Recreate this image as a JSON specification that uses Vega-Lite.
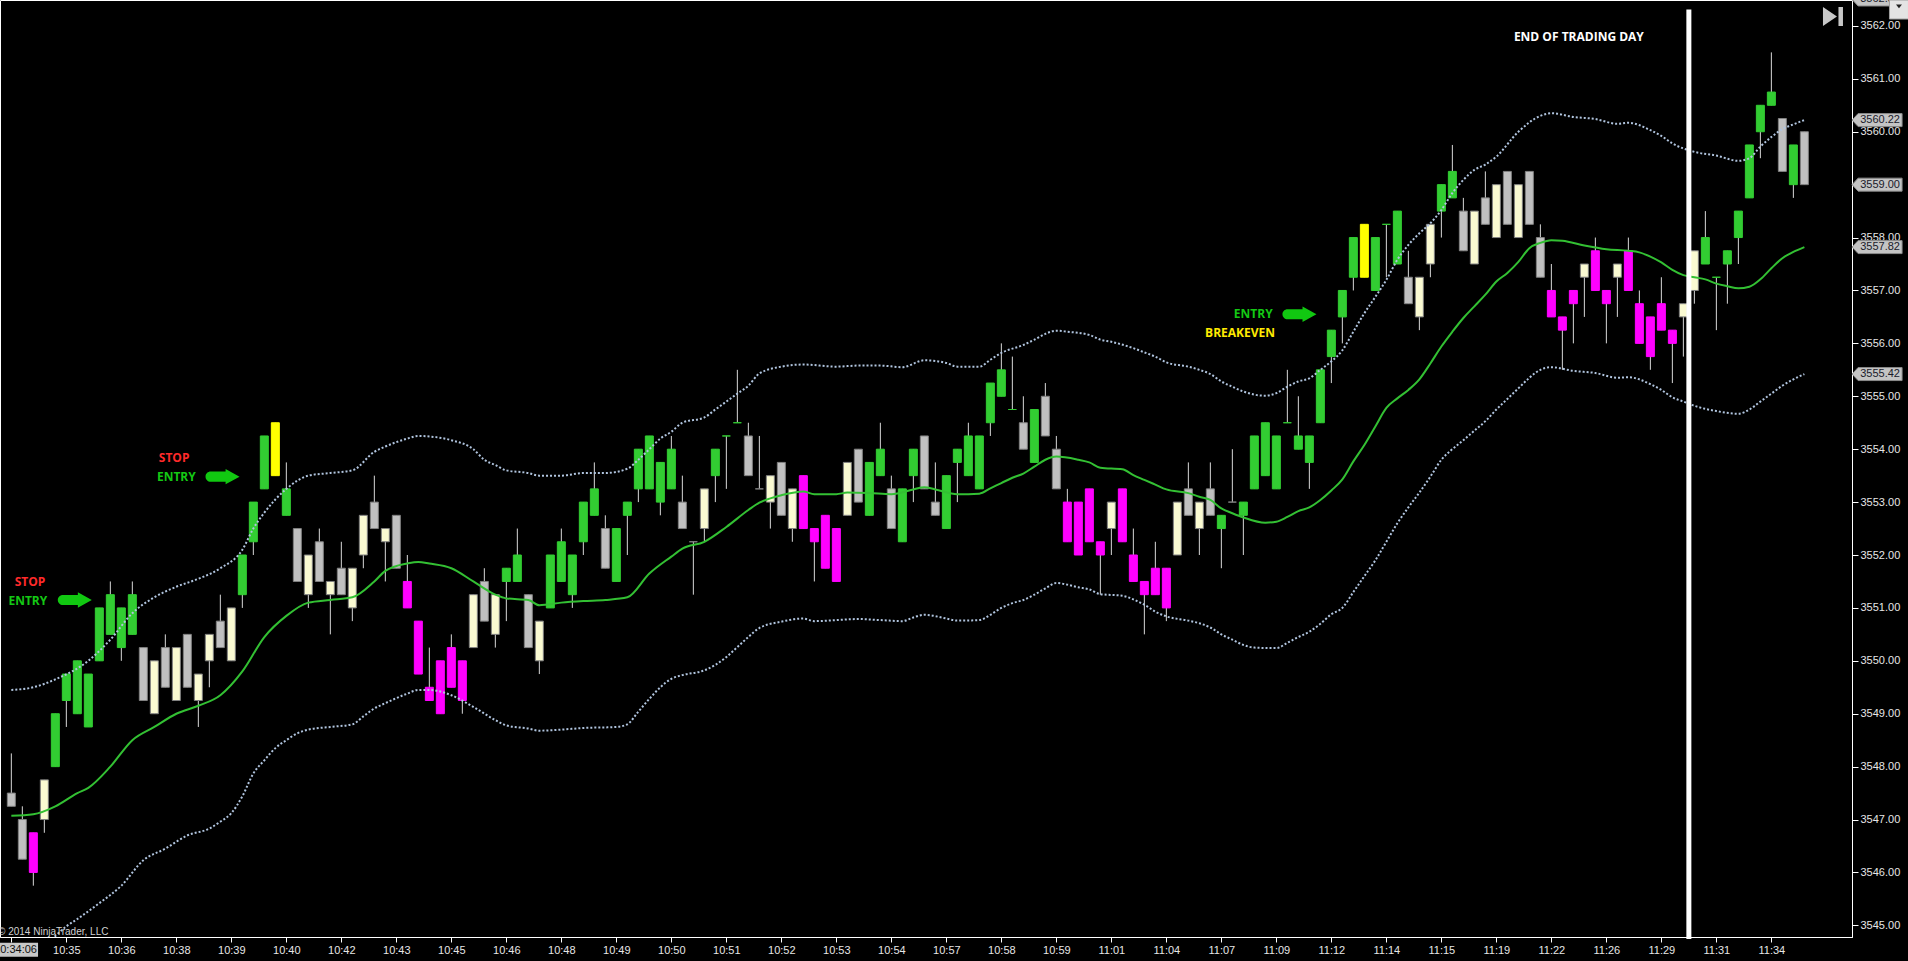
{
  "$schema": "https://vega.github.io/schema/vega-lite/v6.json",
  "width": 1852,
  "height": 937,
  "autosize": "none",
  "padding": {"left": 0, "top": 0, "right": 56, "bottom": 24},
  "background": "#000000",
  "config": {
    "view": {"stroke": "#ffffff", "strokeWidth": 1},
    "axis": {"labelFont": "Liberation Sans", "labelFontSize": 11, "labelColor": "#e6e6e6", "domainColor": "#ffffff", "tickColor": "#ffffff", "grid": false}
  },
  "datasets": {
    "bars": [
      {"i":0,"o":3547.5,"h":3548.25,"l":3547.25,"c":3547.25,"s":"R"},
      {"i":1,"o":3547,"h":3547.25,"l":3546.25,"c":3546.25,"s":"R"},
      {"i":2,"o":3546.75,"h":3546.75,"l":3545.75,"c":3546,"s":"M"},
      {"i":3,"o":3547,"h":3547.75,"l":3546.75,"c":3547.75,"s":"C"},
      {"i":4,"o":3548,"h":3549,"l":3548,"c":3549,"s":"G"},
      {"i":5,"o":3549.25,"h":3549.75,"l":3548.75,"c":3549.75,"s":"G"},
      {"i":6,"o":3549,"h":3550,"l":3549,"c":3550,"s":"G"},
      {"i":7,"o":3548.75,"h":3549.75,"l":3548.75,"c":3549.75,"s":"G"},
      {"i":8,"o":3550,"h":3551,"l":3550,"c":3551,"s":"G"},
      {"i":9,"o":3550.5,"h":3551.5,"l":3550.5,"c":3551.25,"s":"G"},
      {"i":10,"o":3550.25,"h":3551,"l":3550,"c":3551,"s":"G"},
      {"i":11,"o":3550.5,"h":3551.5,"l":3550.5,"c":3551.25,"s":"G"},
      {"i":12,"o":3550.25,"h":3550.25,"l":3549.25,"c":3549.25,"s":"R"},
      {"i":13,"o":3549,"h":3550,"l":3549,"c":3550,"s":"C"},
      {"i":14,"o":3550.25,"h":3550.5,"l":3549.5,"c":3549.5,"s":"R"},
      {"i":15,"o":3549.25,"h":3550.25,"l":3549.25,"c":3550.25,"s":"C"},
      {"i":16,"o":3550.5,"h":3550.5,"l":3549.5,"c":3549.5,"s":"R"},
      {"i":17,"o":3549.25,"h":3549.75,"l":3548.75,"c":3549.75,"s":"C"},
      {"i":18,"o":3550,"h":3550.5,"l":3549.5,"c":3550.5,"s":"C"},
      {"i":19,"o":3550.75,"h":3551.25,"l":3550.25,"c":3550.25,"s":"R"},
      {"i":20,"o":3550,"h":3551,"l":3550,"c":3551,"s":"C"},
      {"i":21,"o":3551.25,"h":3552,"l":3551,"c":3552,"s":"G"},
      {"i":22,"o":3552.25,"h":3553,"l":3552,"c":3553,"s":"G"},
      {"i":23,"o":3553.25,"h":3554.25,"l":3553.25,"c":3554.25,"s":"G"},
      {"i":24,"o":3553.5,"h":3554.5,"l":3553.5,"c":3554.5,"s":"Y"},
      {"i":25,"o":3552.75,"h":3553.75,"l":3552.75,"c":3553.25,"s":"G"},
      {"i":26,"o":3552.5,"h":3552.5,"l":3551.5,"c":3551.5,"s":"R"},
      {"i":27,"o":3551.25,"h":3552,"l":3551,"c":3552,"s":"C"},
      {"i":28,"o":3552.25,"h":3552.5,"l":3551.5,"c":3551.5,"s":"R"},
      {"i":29,"o":3551.25,"h":3551.5,"l":3550.5,"c":3551.5,"s":"C"},
      {"i":30,"o":3551.75,"h":3552.25,"l":3551.25,"c":3551.25,"s":"R"},
      {"i":31,"o":3551,"h":3551.75,"l":3550.75,"c":3551.75,"s":"C"},
      {"i":32,"o":3552,"h":3552.75,"l":3551.75,"c":3552.75,"s":"C"},
      {"i":33,"o":3553,"h":3553.5,"l":3552.5,"c":3552.5,"s":"R"},
      {"i":34,"o":3552.25,"h":3552.5,"l":3551.5,"c":3552.5,"s":"C"},
      {"i":35,"o":3552.75,"h":3552.75,"l":3551.75,"c":3551.75,"s":"R"},
      {"i":36,"o":3551.5,"h":3552,"l":3551,"c":3551,"s":"M"},
      {"i":37,"o":3550.75,"h":3550.75,"l":3549.75,"c":3549.75,"s":"M"},
      {"i":38,"o":3549.5,"h":3550.25,"l":3549.25,"c":3549.25,"s":"M"},
      {"i":39,"o":3550,"h":3550,"l":3549,"c":3549,"s":"M"},
      {"i":40,"o":3550.25,"h":3550.5,"l":3549.5,"c":3549.5,"s":"M"},
      {"i":41,"o":3550,"h":3550,"l":3549,"c":3549.25,"s":"M"},
      {"i":42,"o":3550.25,"h":3551.25,"l":3550.25,"c":3551.25,"s":"C"},
      {"i":43,"o":3551.5,"h":3551.75,"l":3550.75,"c":3550.75,"s":"R"},
      {"i":44,"o":3550.5,"h":3551.25,"l":3550.25,"c":3551.25,"s":"C"},
      {"i":45,"o":3551.5,"h":3551.75,"l":3550.75,"c":3551.75,"s":"G"},
      {"i":46,"o":3551.5,"h":3552.5,"l":3551.5,"c":3552,"s":"G"},
      {"i":47,"o":3551.25,"h":3551.25,"l":3550.25,"c":3550.25,"s":"R"},
      {"i":48,"o":3550,"h":3550.75,"l":3549.75,"c":3550.75,"s":"C"},
      {"i":49,"o":3551,"h":3552,"l":3551,"c":3552,"s":"G"},
      {"i":50,"o":3551.5,"h":3552.5,"l":3551.5,"c":3552.25,"s":"G"},
      {"i":51,"o":3551.25,"h":3552,"l":3551,"c":3552,"s":"G"},
      {"i":52,"o":3552.25,"h":3553,"l":3552,"c":3553,"s":"G"},
      {"i":53,"o":3552.75,"h":3553.75,"l":3552.75,"c":3553.25,"s":"G"},
      {"i":54,"o":3552.5,"h":3552.75,"l":3551.75,"c":3551.75,"s":"R"},
      {"i":55,"o":3551.5,"h":3552.5,"l":3551.5,"c":3552.5,"s":"G"},
      {"i":56,"o":3552.75,"h":3553,"l":3552,"c":3553,"s":"G"},
      {"i":57,"o":3553.25,"h":3554,"l":3553,"c":3554,"s":"G"},
      {"i":58,"o":3553.25,"h":3554.25,"l":3553.25,"c":3554.25,"s":"G"},
      {"i":59,"o":3553,"h":3553.75,"l":3552.75,"c":3553.75,"s":"G"},
      {"i":60,"o":3553.25,"h":3554.25,"l":3553.25,"c":3554,"s":"G"},
      {"i":61,"o":3553,"h":3553.5,"l":3552.5,"c":3552.5,"s":"R"},
      {"i":62,"o":3552.25,"h":3552.25,"l":3551.25,"c":3552.25,"s":"R"},
      {"i":63,"o":3552.5,"h":3553.25,"l":3552.25,"c":3553.25,"s":"C"},
      {"i":64,"o":3553.5,"h":3554,"l":3553,"c":3554,"s":"G"},
      {"i":65,"o":3554.25,"h":3554.25,"l":3553.25,"c":3554.25,"s":"G"},
      {"i":66,"o":3554.5,"h":3555.5,"l":3554.5,"c":3554.5,"s":"G"},
      {"i":67,"o":3554.25,"h":3554.5,"l":3553.5,"c":3553.5,"s":"R"},
      {"i":68,"o":3553.25,"h":3554.25,"l":3553.25,"c":3553.25,"s":"R"},
      {"i":69,"o":3553,"h":3553.5,"l":3552.5,"c":3553.5,"s":"C"},
      {"i":70,"o":3553.75,"h":3553.75,"l":3552.75,"c":3552.75,"s":"R"},
      {"i":71,"o":3552.5,"h":3553.25,"l":3552.25,"c":3553.25,"s":"C"},
      {"i":72,"o":3553.5,"h":3553.5,"l":3552.5,"c":3552.5,"s":"M"},
      {"i":73,"o":3552.5,"h":3552.5,"l":3551.5,"c":3552.25,"s":"M"},
      {"i":74,"o":3552.75,"h":3552.75,"l":3551.75,"c":3551.75,"s":"M"},
      {"i":75,"o":3552.5,"h":3552.5,"l":3551.5,"c":3551.5,"s":"M"},
      {"i":76,"o":3552.75,"h":3553.75,"l":3552.75,"c":3553.75,"s":"C"},
      {"i":77,"o":3554,"h":3554,"l":3553,"c":3553,"s":"R"},
      {"i":78,"o":3552.75,"h":3553.75,"l":3552.75,"c":3553.75,"s":"G"},
      {"i":79,"o":3553.5,"h":3554.5,"l":3553.5,"c":3554,"s":"G"},
      {"i":80,"o":3553.25,"h":3553.5,"l":3552.5,"c":3552.5,"s":"R"},
      {"i":81,"o":3552.25,"h":3553.25,"l":3552.25,"c":3553.25,"s":"G"},
      {"i":82,"o":3553.5,"h":3554,"l":3553,"c":3554,"s":"G"},
      {"i":83,"o":3554.25,"h":3554.25,"l":3553.25,"c":3553.25,"s":"R"},
      {"i":84,"o":3553,"h":3553.75,"l":3552.75,"c":3552.75,"s":"R"},
      {"i":85,"o":3552.5,"h":3553.5,"l":3552.5,"c":3553.5,"s":"G"},
      {"i":86,"o":3553.75,"h":3554,"l":3553,"c":3554,"s":"G"},
      {"i":87,"o":3553.5,"h":3554.5,"l":3553.5,"c":3554.25,"s":"G"},
      {"i":88,"o":3553.25,"h":3554.25,"l":3553.25,"c":3554.25,"s":"G"},
      {"i":89,"o":3554.5,"h":3555.25,"l":3554.25,"c":3555.25,"s":"G"},
      {"i":90,"o":3555,"h":3556,"l":3555,"c":3555.5,"s":"G"},
      {"i":91,"o":3554.75,"h":3555.75,"l":3554.75,"c":3554.75,"s":"G"},
      {"i":92,"o":3554.5,"h":3555,"l":3554,"c":3554,"s":"R"},
      {"i":93,"o":3553.75,"h":3554.75,"l":3553.75,"c":3554.75,"s":"G"},
      {"i":94,"o":3555,"h":3555.25,"l":3554.25,"c":3554.25,"s":"R"},
      {"i":95,"o":3554,"h":3554.25,"l":3553.25,"c":3553.25,"s":"R"},
      {"i":96,"o":3553,"h":3553.25,"l":3552.25,"c":3552.25,"s":"M"},
      {"i":97,"o":3553,"h":3553,"l":3552,"c":3552,"s":"M"},
      {"i":98,"o":3553.25,"h":3553.25,"l":3552.25,"c":3552.25,"s":"M"},
      {"i":99,"o":3552.25,"h":3552.25,"l":3551.25,"c":3552,"s":"M"},
      {"i":100,"o":3552.5,"h":3553,"l":3552,"c":3553,"s":"C"},
      {"i":101,"o":3553.25,"h":3553.25,"l":3552.25,"c":3552.25,"s":"M"},
      {"i":102,"o":3552,"h":3552.5,"l":3551.5,"c":3551.5,"s":"M"},
      {"i":103,"o":3551.5,"h":3551.5,"l":3550.5,"c":3551.25,"s":"M"},
      {"i":104,"o":3551.75,"h":3552.25,"l":3551.25,"c":3551.25,"s":"M"},
      {"i":105,"o":3551.75,"h":3551.75,"l":3550.75,"c":3551,"s":"M"},
      {"i":106,"o":3552,"h":3553,"l":3552,"c":3553,"s":"C"},
      {"i":107,"o":3553.25,"h":3553.75,"l":3552.75,"c":3552.75,"s":"R"},
      {"i":108,"o":3552.5,"h":3553,"l":3552,"c":3553,"s":"C"},
      {"i":109,"o":3553.25,"h":3553.75,"l":3552.75,"c":3552.75,"s":"R"},
      {"i":110,"o":3552.5,"h":3552.75,"l":3551.75,"c":3552.75,"s":"G"},
      {"i":111,"o":3553,"h":3554,"l":3553,"c":3553,"s":"R"},
      {"i":112,"o":3552.75,"h":3553,"l":3552,"c":3553,"s":"G"},
      {"i":113,"o":3553.25,"h":3554.25,"l":3553.25,"c":3554.25,"s":"G"},
      {"i":114,"o":3553.5,"h":3554.5,"l":3553.5,"c":3554.5,"s":"G"},
      {"i":115,"o":3553.25,"h":3554.25,"l":3553.25,"c":3554.25,"s":"G"},
      {"i":116,"o":3554.5,"h":3555.5,"l":3554.5,"c":3554.5,"s":"G"},
      {"i":117,"o":3554,"h":3555,"l":3554,"c":3554.25,"s":"G"},
      {"i":118,"o":3553.75,"h":3554.25,"l":3553.25,"c":3554.25,"s":"G"},
      {"i":119,"o":3554.5,"h":3555.5,"l":3554.5,"c":3555.5,"s":"G"},
      {"i":120,"o":3555.75,"h":3556.25,"l":3555.25,"c":3556.25,"s":"G"},
      {"i":121,"o":3556.5,"h":3557,"l":3556,"c":3557,"s":"G"},
      {"i":122,"o":3557.25,"h":3558,"l":3557,"c":3558,"s":"G"},
      {"i":123,"o":3557.25,"h":3558.25,"l":3557.25,"c":3558.25,"s":"Y"},
      {"i":124,"o":3557,"h":3558,"l":3557,"c":3558,"s":"G"},
      {"i":125,"o":3558.25,"h":3558.25,"l":3557.25,"c":3558.25,"s":"G"},
      {"i":126,"o":3557.5,"h":3558.5,"l":3557.5,"c":3558.5,"s":"G"},
      {"i":127,"o":3557.25,"h":3557.75,"l":3556.75,"c":3556.75,"s":"R"},
      {"i":128,"o":3556.5,"h":3557.25,"l":3556.25,"c":3557.25,"s":"C"},
      {"i":129,"o":3557.5,"h":3558.25,"l":3557.25,"c":3558.25,"s":"C"},
      {"i":130,"o":3558.5,"h":3559,"l":3558,"c":3559,"s":"G"},
      {"i":131,"o":3558.75,"h":3559.75,"l":3558.75,"c":3559.25,"s":"G"},
      {"i":132,"o":3558.5,"h":3558.75,"l":3557.75,"c":3557.75,"s":"R"},
      {"i":133,"o":3557.5,"h":3558.5,"l":3557.5,"c":3558.5,"s":"C"},
      {"i":134,"o":3558.75,"h":3559.25,"l":3558.25,"c":3558.25,"s":"R"},
      {"i":135,"o":3558,"h":3559,"l":3558,"c":3559,"s":"C"},
      {"i":136,"o":3559.25,"h":3559.25,"l":3558.25,"c":3558.25,"s":"R"},
      {"i":137,"o":3558,"h":3559,"l":3558,"c":3559,"s":"C"},
      {"i":138,"o":3559.25,"h":3559.25,"l":3558.25,"c":3558.25,"s":"R"},
      {"i":139,"o":3558,"h":3558.25,"l":3557.25,"c":3557.25,"s":"R"},
      {"i":140,"o":3557,"h":3557.5,"l":3556.5,"c":3556.5,"s":"M"},
      {"i":141,"o":3556.5,"h":3556.5,"l":3555.5,"c":3556.25,"s":"M"},
      {"i":142,"o":3557,"h":3557,"l":3556,"c":3556.75,"s":"M"},
      {"i":143,"o":3557.25,"h":3557.5,"l":3556.5,"c":3557.5,"s":"C"},
      {"i":144,"o":3557.75,"h":3558,"l":3557,"c":3557,"s":"M"},
      {"i":145,"o":3557,"h":3557,"l":3556,"c":3556.75,"s":"M"},
      {"i":146,"o":3557.25,"h":3557.5,"l":3556.5,"c":3557.5,"s":"C"},
      {"i":147,"o":3557.75,"h":3558,"l":3557,"c":3557,"s":"M"},
      {"i":148,"o":3556.75,"h":3557,"l":3556,"c":3556,"s":"M"},
      {"i":149,"o":3556.5,"h":3556.5,"l":3555.5,"c":3555.75,"s":"M"},
      {"i":150,"o":3556.75,"h":3557.25,"l":3556.25,"c":3556.25,"s":"M"},
      {"i":151,"o":3556.25,"h":3556.25,"l":3555.25,"c":3556,"s":"M"},
      {"i":152,"o":3556.5,"h":3556.75,"l":3555.75,"c":3556.75,"s":"C"},
      {"i":153,"o":3557,"h":3557.75,"l":3556.75,"c":3557.75,"s":"C"},
      {"i":154,"o":3557.5,"h":3558.5,"l":3557.5,"c":3558,"s":"G"},
      {"i":155,"o":3557.25,"h":3557.25,"l":3556.25,"c":3557.25,"s":"G"},
      {"i":156,"o":3557.5,"h":3557.75,"l":3556.75,"c":3557.75,"s":"G"},
      {"i":157,"o":3558,"h":3558.5,"l":3557.5,"c":3558.5,"s":"G"},
      {"i":158,"o":3558.75,"h":3559.75,"l":3558.75,"c":3559.75,"s":"G"},
      {"i":159,"o":3560,"h":3560.5,"l":3559.5,"c":3560.5,"s":"G"},
      {"i":160,"o":3560.5,"h":3561.5,"l":3560.5,"c":3560.75,"s":"G"},
      {"i":161,"o":3560.25,"h":3560.25,"l":3559.25,"c":3559.25,"s":"R"},
      {"i":162,"o":3559,"h":3559.75,"l":3558.75,"c":3559.75,"s":"G"},
      {"i":163,"o":3560,"h":3560,"l":3559,"c":3559,"s":"R"}
    ],
    "upper": [
      {"i":0,"v":3549.45},{"i":2,"v":3549.5},{"i":4,"v":3549.65},{"i":7,"v":3550.0},{"i":9,"v":3550.4},{"i":11,"v":3550.9},{"i":13,"v":3551.2},{"i":15,"v":3551.4},{"i":17,"v":3551.55},{"i":19,"v":3551.75},{"i":21,"v":3552.1},{"i":22,"v":3552.5},{"i":23,"v":3552.8},{"i":25,"v":3553.25},{"i":27,"v":3553.5},{"i":29,"v":3553.55},{"i":31,"v":3553.6},{"i":33,"v":3553.95},{"i":34,"v":3554.05},{"i":36,"v":3554.2},{"i":37,"v":3554.25},{"i":38,"v":3554.24},{"i":40,"v":3554.17},{"i":42,"v":3554.0},{"i":43,"v":3553.8},{"i":44,"v":3553.7},{"i":45,"v":3553.6},{"i":47,"v":3553.55},{"i":48,"v":3553.5},{"i":50,"v":3553.5},{"i":52,"v":3553.55},{"i":54,"v":3553.55},{"i":56,"v":3553.63},{"i":57,"v":3553.8},{"i":58,"v":3554.0},{"i":59,"v":3554.2},{"i":60,"v":3554.33},{"i":61,"v":3554.5},{"i":63,"v":3554.6},{"i":64,"v":3554.75},{"i":66,"v":3555.05},{"i":67,"v":3555.2},{"i":68,"v":3555.43},{"i":70,"v":3555.56},{"i":72,"v":3555.6},{"i":75,"v":3555.56},{"i":77,"v":3555.58},{"i":79,"v":3555.58},{"i":81,"v":3555.55},{"i":83,"v":3555.68},{"i":85,"v":3555.63},{"i":86,"v":3555.56},{"i":88,"v":3555.56},{"i":89,"v":3555.69},{"i":90,"v":3555.82},{"i":92,"v":3555.97},{"i":93,"v":3556.07},{"i":94,"v":3556.18},{"i":95,"v":3556.24},{"i":96,"v":3556.22},{"i":98,"v":3556.16},{"i":99,"v":3556.07},{"i":100,"v":3556.03},{"i":102,"v":3555.91},{"i":103,"v":3555.83},{"i":104,"v":3555.75},{"i":105,"v":3555.64},{"i":107,"v":3555.56},{"i":108,"v":3555.5},{"i":109,"v":3555.42},{"i":110,"v":3555.28},{"i":111,"v":3555.18},{"i":112,"v":3555.09},{"i":114,"v":3555.01},{"i":115,"v":3555.06},{"i":116,"v":3555.18},{"i":117,"v":3555.28},{"i":118,"v":3555.34},{"i":119,"v":3555.5},{"i":120,"v":3555.66},{"i":121,"v":3555.87},{"i":122,"v":3556.22},{"i":123,"v":3556.57},{"i":124,"v":3556.88},{"i":125,"v":3557.2},{"i":126,"v":3557.58},{"i":127,"v":3557.86},{"i":128,"v":3558.08},{"i":129,"v":3558.27},{"i":130,"v":3558.52},{"i":131,"v":3558.84},{"i":132,"v":3559.09},{"i":133,"v":3559.28},{"i":134,"v":3559.38},{"i":135,"v":3559.53},{"i":137,"v":3560.0},{"i":139,"v":3560.3},{"i":140,"v":3560.35},{"i":142,"v":3560.28},{"i":144,"v":3560.24},{"i":146,"v":3560.15},{"i":147,"v":3560.17},{"i":149,"v":3560.03},{"i":150,"v":3559.92},{"i":151,"v":3559.78},{"i":153,"v":3559.62},{"i":155,"v":3559.55},{"i":157,"v":3559.45},{"i":158,"v":3559.5},{"i":159,"v":3559.72},{"i":160,"v":3559.9},{"i":161,"v":3560.05},{"i":162,"v":3560.14},{"i":163,"v":3560.22}
    ],
    "middle": [
      {"i":0,"v":3547.07},{"i":2,"v":3547.1},{"i":4,"v":3547.25},{"i":6,"v":3547.5},{"i":7,"v":3547.6},{"i":9,"v":3548.0},{"i":11,"v":3548.5},{"i":13,"v":3548.75},{"i":15,"v":3549.0},{"i":17,"v":3549.15},{"i":19,"v":3549.35},{"i":21,"v":3549.8},{"i":23,"v":3550.45},{"i":25,"v":3550.85},{"i":27,"v":3551.1},{"i":29,"v":3551.15},{"i":31,"v":3551.2},{"i":33,"v":3551.5},{"i":34,"v":3551.7},{"i":36,"v":3551.84},{"i":37,"v":3551.87},{"i":38,"v":3551.84},{"i":40,"v":3551.75},{"i":42,"v":3551.5},{"i":44,"v":3551.25},{"i":45,"v":3551.18},{"i":47,"v":3551.15},{"i":48,"v":3551.05},{"i":50,"v":3551.1},{"i":52,"v":3551.13},{"i":54,"v":3551.15},{"i":56,"v":3551.2},{"i":58,"v":3551.65},{"i":60,"v":3551.97},{"i":61,"v":3552.12},{"i":63,"v":3552.25},{"i":65,"v":3552.53},{"i":67,"v":3552.85},{"i":68,"v":3552.99},{"i":69,"v":3553.07},{"i":70,"v":3553.13},{"i":72,"v":3553.2},{"i":73,"v":3553.15},{"i":75,"v":3553.15},{"i":76,"v":3553.18},{"i":78,"v":3553.17},{"i":80,"v":3553.15},{"i":82,"v":3553.24},{"i":83,"v":3553.28},{"i":84,"v":3553.24},{"i":86,"v":3553.15},{"i":88,"v":3553.16},{"i":89,"v":3553.26},{"i":90,"v":3553.36},{"i":91,"v":3553.46},{"i":92,"v":3553.54},{"i":93,"v":3553.67},{"i":94,"v":3553.8},{"i":95,"v":3553.86},{"i":97,"v":3553.8},{"i":98,"v":3553.75},{"i":99,"v":3553.65},{"i":101,"v":3553.62},{"i":102,"v":3553.51},{"i":103,"v":3553.42},{"i":104,"v":3553.33},{"i":105,"v":3553.24},{"i":107,"v":3553.17},{"i":108,"v":3553.1},{"i":109,"v":3553.04},{"i":110,"v":3552.88},{"i":111,"v":3552.79},{"i":112,"v":3552.71},{"i":114,"v":3552.61},{"i":115,"v":3552.63},{"i":116,"v":3552.72},{"i":117,"v":3552.83},{"i":118,"v":3552.9},{"i":119,"v":3553.04},{"i":120,"v":3553.22},{"i":121,"v":3553.43},{"i":122,"v":3553.77},{"i":123,"v":3554.08},{"i":124,"v":3554.43},{"i":125,"v":3554.78},{"i":126,"v":3554.96},{"i":127,"v":3555.12},{"i":128,"v":3555.32},{"i":129,"v":3555.62},{"i":130,"v":3555.94},{"i":131,"v":3556.22},{"i":132,"v":3556.48},{"i":133,"v":3556.7},{"i":134,"v":3556.92},{"i":135,"v":3557.17},{"i":136,"v":3557.33},{"i":137,"v":3557.54},{"i":138,"v":3557.8},{"i":139,"v":3557.9},{"i":140,"v":3557.95},{"i":141,"v":3557.94},{"i":143,"v":3557.85},{"i":145,"v":3557.78},{"i":147,"v":3557.75},{"i":148,"v":3557.72},{"i":149,"v":3557.64},{"i":150,"v":3557.53},{"i":151,"v":3557.39},{"i":152,"v":3557.29},{"i":153,"v":3557.25},{"i":154,"v":3557.21},{"i":155,"v":3557.13},{"i":156,"v":3557.08},{"i":157,"v":3557.04},{"i":158,"v":3557.07},{"i":159,"v":3557.21},{"i":160,"v":3557.42},{"i":161,"v":3557.61},{"i":162,"v":3557.73},{"i":163,"v":3557.82}
    ],
    "lower": [
      {"i":0,"v":3543.9},{"i":2,"v":3544.3},{"i":4,"v":3544.8},{"i":5,"v":3544.98},{"i":6,"v":3545.12},{"i":8,"v":3545.42},{"i":10,"v":3545.75},{"i":12,"v":3546.23},{"i":14,"v":3546.45},{"i":16,"v":3546.7},{"i":18,"v":3546.83},{"i":19,"v":3546.96},{"i":20,"v":3547.12},{"i":21,"v":3547.44},{"i":22,"v":3547.87},{"i":23,"v":3548.12},{"i":24,"v":3548.35},{"i":25,"v":3548.5},{"i":26,"v":3548.63},{"i":27,"v":3548.7},{"i":29,"v":3548.75},{"i":31,"v":3548.8},{"i":32,"v":3548.95},{"i":33,"v":3549.1},{"i":34,"v":3549.2},{"i":36,"v":3549.38},{"i":37,"v":3549.45},{"i":38,"v":3549.45},{"i":40,"v":3549.35},{"i":42,"v":3549.13},{"i":44,"v":3548.88},{"i":45,"v":3548.78},{"i":47,"v":3548.72},{"i":48,"v":3548.68},{"i":50,"v":3548.7},{"i":52,"v":3548.73},{"i":55,"v":3548.75},{"i":56,"v":3548.8},{"i":57,"v":3549.04},{"i":58,"v":3549.28},{"i":59,"v":3549.5},{"i":60,"v":3549.66},{"i":61,"v":3549.73},{"i":63,"v":3549.82},{"i":65,"v":3550.07},{"i":66,"v":3550.26},{"i":67,"v":3550.45},{"i":68,"v":3550.62},{"i":70,"v":3550.74},{"i":72,"v":3550.8},{"i":73,"v":3550.75},{"i":75,"v":3550.77},{"i":77,"v":3550.79},{"i":79,"v":3550.77},{"i":81,"v":3550.75},{"i":82,"v":3550.82},{"i":83,"v":3550.87},{"i":85,"v":3550.8},{"i":86,"v":3550.76},{"i":88,"v":3550.77},{"i":89,"v":3550.87},{"i":90,"v":3551.0},{"i":91,"v":3551.09},{"i":92,"v":3551.15},{"i":93,"v":3551.25},{"i":94,"v":3551.37},{"i":95,"v":3551.47},{"i":96,"v":3551.44},{"i":97,"v":3551.39},{"i":98,"v":3551.35},{"i":99,"v":3551.26},{"i":101,"v":3551.23},{"i":102,"v":3551.16},{"i":103,"v":3551.06},{"i":104,"v":3550.93},{"i":105,"v":3550.84},{"i":107,"v":3550.76},{"i":108,"v":3550.71},{"i":109,"v":3550.63},{"i":110,"v":3550.5},{"i":111,"v":3550.4},{"i":112,"v":3550.3},{"i":113,"v":3550.25},{"i":115,"v":3550.24},{"i":116,"v":3550.34},{"i":117,"v":3550.45},{"i":118,"v":3550.55},{"i":119,"v":3550.7},{"i":120,"v":3550.88},{"i":121,"v":3551.0},{"i":122,"v":3551.3},{"i":123,"v":3551.6},{"i":124,"v":3551.9},{"i":125,"v":3552.25},{"i":126,"v":3552.6},{"i":127,"v":3552.9},{"i":128,"v":3553.18},{"i":129,"v":3553.48},{"i":130,"v":3553.8},{"i":131,"v":3554.0},{"i":132,"v":3554.17},{"i":133,"v":3554.35},{"i":134,"v":3554.53},{"i":135,"v":3554.75},{"i":136,"v":3554.95},{"i":137,"v":3555.15},{"i":138,"v":3555.35},{"i":139,"v":3555.5},{"i":140,"v":3555.55},{"i":142,"v":3555.48},{"i":144,"v":3555.44},{"i":146,"v":3555.35},{"i":147,"v":3555.36},{"i":149,"v":3555.23},{"i":150,"v":3555.12},{"i":151,"v":3554.98},{"i":152,"v":3554.9},{"i":153,"v":3554.82},{"i":155,"v":3554.72},{"i":157,"v":3554.67},{"i":158,"v":3554.75},{"i":159,"v":3554.9},{"i":160,"v":3555.05},{"i":161,"v":3555.2},{"i":162,"v":3555.32},{"i":163,"v":3555.42}
    ],
    "tags": [
      {"p":3562.5,"t":"3562.50"},
      {"p":3560.22,"t":"3560.22"},
      {"p":3559.0,"t":"3559.00"},
      {"p":3557.82,"t":"3557.82"},
      {"p":3555.42,"t":"3555.42"}
    ]
  },
  "layer": [
    {
      "data": {"name": "bars"},
      "mark": {"type": "rule", "color": "#d8d8d8", "strokeWidth": 1},
      "encoding": {
        "x": {
          "field": "i", "type": "quantitative",
          "scale": {"domain": [-1.03, 167.33], "nice": false, "zero": false, "padding": 0},
          "axis": {
            "title": null, "values": [0,5,10,15,20,25,30,35,40,45,50,55,60,65,70,75,80,85,90,95,100,105,110,115,120,125,130,135,140,145,150,155,160],
            "labelExpr": "['','10:35','10:36','10:38','10:39','10:40','10:42','10:43','10:45','10:46','10:48','10:49','10:50','10:51','10:52','10:53','10:54','10:57','10:58','10:59','11:01','11:04','11:07','11:09','11:12','11:14','11:15','11:19','11:22','11:26','11:29','11:31','11:34'][round(datum.value/5)]",
            "tickSize": 5, "labelPadding": 2, "labelAngle": 0, "labelOverlap": false, "labelFlush": false
          }
        },
        "y": {
          "field": "l", "type": "quantitative",
          "scale": {"domain": [3544.78, 3562.49], "nice": false, "zero": false},
          "axis": {
            "title": null, "orient": "right", "values": [3545,3546,3547,3548,3549,3550,3551,3552,3553,3554,3555,3556,3557,3558,3559,3560,3561,3562],
            "format": ".2f", "tickSize": 6, "labelPadding": 2, "labelOverlap": false, "labelFlush": false
          }
        },
        "y2": {"field": "h"}
      }
    },
    {
      "data": {"name": "bars"},
      "mark": {"type": "bar", "orient": "vertical", "width": 8, "strokeWidth": 1},
      "encoding": {
        "x": {"field": "i", "type": "quantitative"},
        "y": {"field": "o", "type": "quantitative"},
        "y2": {"field": "c"},
        "fill": {"field": "s", "type": "nominal", "legend": null,
          "scale": {"domain": ["G","M","C","R","Y"], "range": ["#32cd32","#ff00ff","#fafad2","#c0c0c0","#ffff00"]}},
        "stroke": {"field": "s", "type": "nominal", "legend": null,
          "scale": {"domain": ["G","M","C","R","Y"], "range": ["#32cd32","#ff00ff","#808080","#808080","#ffff00"]}}
      }
    },
    {
      "data": {"name": "upper"},
      "mark": {"type": "line", "color": "#b0c4de", "strokeWidth": 2, "strokeDash": [2, 2], "interpolate": "monotone", "clip": true},
      "encoding": {
        "x": {"field": "i", "type": "quantitative"},
        "y": {"field": "v", "type": "quantitative"}
      }
    },
    {
      "data": {"name": "lower"},
      "mark": {"type": "line", "color": "#b0c4de", "strokeWidth": 2, "strokeDash": [2, 2], "interpolate": "monotone", "clip": true},
      "encoding": {
        "x": {"field": "i", "type": "quantitative"},
        "y": {"field": "v", "type": "quantitative"}
      }
    },
    {
      "data": {"name": "middle"},
      "mark": {"type": "line", "color": "#33c033", "strokeWidth": 2, "interpolate": "monotone", "clip": true},
      "encoding": {
        "x": {"field": "i", "type": "quantitative"},
        "y": {"field": "v", "type": "quantitative"}
      }
    },
    {
      "data": {"values": [{"i": 152.5, "top": 3562.31, "bottom": 3544.74}]},
      "mark": {"type": "rule", "color": "#ffffff", "strokeWidth": 5},
      "encoding": {
        "x": {"field": "i", "type": "quantitative"},
        "y": {"field": "top", "type": "quantitative"},
        "y2": {"field": "bottom"}
      }
    },
    {
      "data": {"values": [{"i": 1.7, "p": 3551.49, "t": "STOP"}, {"i": 14.8, "p": 3553.83, "t": "STOP"}]},
      "mark": {"type": "text", "font": "Open Sans", "fontWeight": "bold", "fontSize": 12, "color": "#ff2a2a", "align": "center", "baseline": "middle"},
      "encoding": {
        "x": {"field": "i", "type": "quantitative"},
        "y": {"field": "p", "type": "quantitative"},
        "text": {"field": "t"}
      }
    },
    {
      "data": {"values": [{"i": 1.5, "p": 3551.14, "t": "ENTRY"}, {"i": 15.0, "p": 3553.48, "t": "ENTRY"}, {"i": 112.9, "p": 3556.55, "t": "ENTRY"}]},
      "mark": {"type": "text", "font": "Open Sans", "fontWeight": "bold", "fontSize": 12, "color": "#14c814", "align": "center", "baseline": "middle"},
      "encoding": {
        "x": {"field": "i", "type": "quantitative"},
        "y": {"field": "p", "type": "quantitative"},
        "text": {"field": "t"}
      }
    },
    {
      "data": {"values": [{"i": 111.7, "p": 3556.19, "t": "BREAKEVEN"}]},
      "mark": {"type": "text", "font": "Open Sans", "fontWeight": "bold", "fontSize": 12, "color": "#ffea00", "align": "center", "baseline": "middle"},
      "encoding": {
        "x": {"field": "i", "type": "quantitative"},
        "y": {"field": "p", "type": "quantitative"},
        "text": {"field": "t"}
      }
    },
    {
      "data": {"values": [{"i": 142.5, "p": 3561.79, "t": "END OF TRADING DAY"}]},
      "mark": {"type": "text", "font": "Open Sans", "fontWeight": "bold", "fontSize": 12, "color": "#ffffff", "align": "center", "baseline": "middle"},
      "encoding": {
        "x": {"field": "i", "type": "quantitative"},
        "y": {"field": "p", "type": "quantitative"},
        "text": {"field": "t"}
      }
    },
    {
      "data": {"values": [{"i": 5.77, "p": 3551.15}, {"i": 19.2, "p": 3553.48}, {"i": 117.1, "p": 3556.55}]},
      "mark": {"type": "point", "shape": "M-0.7,-0.3L0.18,-0.3L0.18,-0.45L1,0L0.18,0.45L0.18,0.3L-0.7,0.3A0.3,0.3,0,0,1,-0.7,-0.3Z", "size": 1156, "filled": true, "fill": "#11c811", "strokeWidth": 0, "opacity": 1},
      "encoding": {
        "x": {"field": "i", "type": "quantitative"},
        "y": {"field": "p", "type": "quantitative"}
      }
    },
    {
      "data": {"name": "tags"},
      "mark": {"type": "point", "shape": "M-1,0L-0.76,-0.26L1,-0.26L1,0.26L-0.76,0.26Z", "size": 2500, "filled": true, "fill": "#c4c4c4", "stroke": "#8a8a8a", "strokeWidth": 1, "opacity": 1},
      "encoding": {
        "x": {"datum": 169.61, "type": "quantitative"},
        "y": {"field": "p", "type": "quantitative"}
      }
    },
    {
      "data": {"name": "tags"},
      "mark": {"type": "text", "font": "Liberation Sans", "fontSize": 11, "color": "#1a1a2a", "align": "center", "baseline": "middle"},
      "encoding": {
        "x": {"datum": 169.88, "type": "quantitative"},
        "y": {"field": "p", "type": "quantitative"},
        "text": {"field": "t"}
      }
    },
    {
      "data": {"values": [{"i": 165.6, "p": 3562.18}]},
      "mark": {"type": "point", "shape": "M-1,-0.95L0.4,0L-1,0.95Z M0.55,-0.95L1,-0.95L1,0.95L0.55,0.95Z", "size": 400, "filled": true, "fill": "#c8c8c8", "strokeWidth": 0, "opacity": 1},
      "encoding": {
        "x": {"field": "i", "type": "quantitative"},
        "y": {"field": "p", "type": "quantitative"}
      }
    },
    {
      "data": {"values": [{"i": 171.6, "p": 3562.31}]},
      "mark": {"type": "point", "shape": "square", "size": 361, "filled": true, "fill": "#e4e4e4", "stroke": "#a0a0a0", "strokeWidth": 1, "opacity": 1},
      "encoding": {
        "x": {"field": "i", "type": "quantitative"},
        "y": {"field": "p", "type": "quantitative"}
      }
    },
    {
      "data": {"values": [{"i": 171.6, "p": 3562.37}]},
      "mark": {"type": "point", "shape": "M-1,-0.6L1,-0.6L0,0.6Z", "size": 36, "filled": true, "fill": "#202020", "strokeWidth": 0, "opacity": 1},
      "encoding": {
        "x": {"field": "i", "type": "quantitative"},
        "y": {"field": "p", "type": "quantitative"}
      }
    },
    {
      "data": {"values": [{"i": 0.61, "p": 3544.54}]},
      "mark": {"type": "point", "shape": "M-1,-0.35L1,-0.35L1,0.35L-1,0.35Z", "size": 1600, "filled": true, "fill": "#c8c8c8", "strokeWidth": 0, "opacity": 1},
      "encoding": {
        "x": {"field": "i", "type": "quantitative"},
        "y": {"field": "p", "type": "quantitative"}
      }
    },
    {
      "data": {"values": [{"i": 2.33, "p": 3544.54, "t": "10:34:06"}]},
      "mark": {"type": "text", "font": "Liberation Sans", "fontSize": 11, "color": "#101010", "align": "right", "baseline": "middle"},
      "encoding": {
        "x": {"field": "i", "type": "quantitative"},
        "y": {"field": "p", "type": "quantitative"},
        "text": {"field": "t"}
      }
    },
    {
      "data": {"values": [{"i": -1.21, "p": 3544.88, "t": "© 2014 NinjaTrader, LLC"}]},
      "mark": {"type": "text", "font": "Liberation Sans", "fontSize": 10, "color": "#d0d0d0", "align": "left", "baseline": "middle"},
      "encoding": {
        "x": {"field": "i", "type": "quantitative"},
        "y": {"field": "p", "type": "quantitative"},
        "text": {"field": "t"}
      }
    }
  ]
}
